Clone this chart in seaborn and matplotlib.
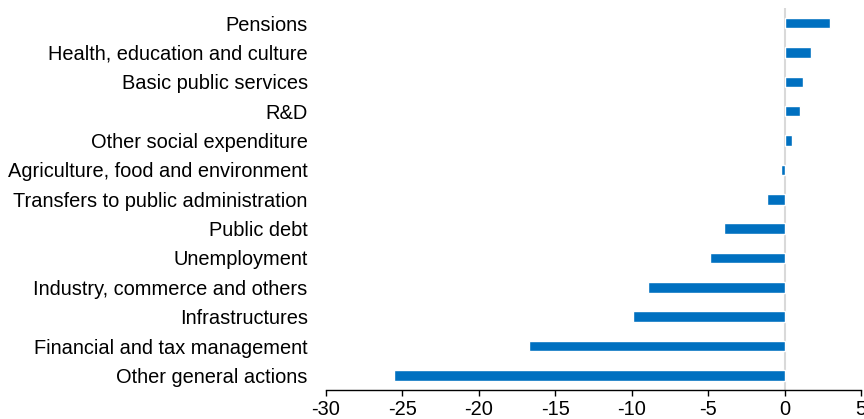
import matplotlib
matplotlib.use("Agg")
import matplotlib.pyplot as plt
import seaborn as sns
import pandas as pd

categories = [
    "Pensions",
    "Health, education and culture",
    "Basic public services",
    "R&D",
    "Other social expenditure",
    "Agriculture, food and environment",
    "Transfers to public administration",
    "Public debt",
    "Unemployment",
    "Industry, commerce and others",
    "Infrastructures",
    "Financial and tax management",
    "Other general actions",
]
values = [3.0, 1.7, 1.2, 1.0, 0.5, -0.24, -1.15, -3.95, -4.9, -8.9, -9.9, -16.7, -25.55]
xticks = [-30, -25, -20, -15, -10, -5, 0, 5]

df = pd.DataFrame({"category": categories, "value": values})

sns.set_theme(style="white")
plt.rcParams["font.family"] = ["Liberation Sans", "DejaVu Sans"]

fig = plt.figure(figsize=(8.64, 4.19), dpi=100)
ax = fig.add_axes([0.377, 0.069, 0.9965 - 0.377, 0.98 - 0.069])

sns.barplot(data=df, x="value", y="category", order=categories, orient="h",
            color="#0070C0", width=0.36, saturation=1, ax=ax)

ax.axvline(0, color="#d9d9d9", lw=1.5, zorder=0)

ax.set_xlim(-30, 5)
ax.set_ylim(len(categories) - 0.5, -0.5)
ax.set_xticks(xticks)
ax.set_xticklabels([str(t) for t in xticks])
ax.set_xlabel("")
ax.set_ylabel("")

for s in ["top", "right", "left"]:
    ax.spines[s].set_visible(False)
ax.spines["bottom"].set_color("black")
ax.spines["bottom"].set_linewidth(1.0)

ax.tick_params(axis="x", direction="out", length=4, width=1, color="black",
               labelsize=14.4, pad=3, bottom=True)
ax.tick_params(axis="y", length=0, labelsize=14.4, pad=13)
for lbl in ax.get_xticklabels() + ax.get_yticklabels():
    lbl.set_color("black")

fig.savefig("out.png", dpi=100)
